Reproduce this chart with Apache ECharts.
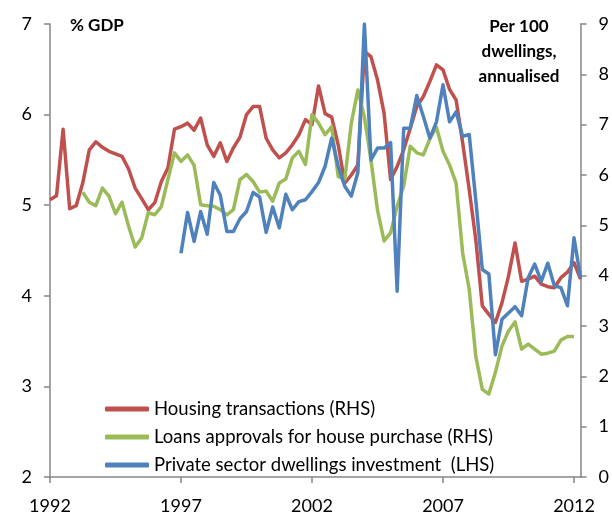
<!DOCTYPE html>
<html>
<head>
<meta charset="utf-8">
<script src="https://cdn.jsdelivr.net/npm/echarts@6/dist/echarts.min.js"></script>
<style>
  html, body { margin: 0; padding: 0; background: #fff; }
  #chart { width: 612px; height: 515px; }
</style>
</head>
<body>
<div id="chart"></div>
<script>
// quarterly, 1992 Q1 .. 2012 Q2
const quarters = []
for (let y = 1992; y <= 2012; y++) {
  for (let q = 1; q <= 4; q++) quarters.push(y + ' Q' + q)
}
quarters.length = 82

// Per 100 dwellings, annualised (RHS)
const housingTransactions = [
  5.51, 5.59, 6.91, 5.33, 5.39, 5.84, 6.50, 6.66, 6.55, 6.47,
  6.42, 6.37, 6.12, 5.74, 5.53, 5.31, 5.45, 5.87, 6.14, 6.91,
  6.96, 7.03, 6.89, 7.13, 6.60, 6.37, 6.64, 6.27, 6.54, 6.75,
  7.20, 7.36, 7.36, 6.73, 6.50, 6.34, 6.44, 6.60, 6.80, 7.10,
  7.00, 7.77, 7.22, 7.15, 6.60, 5.84, 6.00, 6.20, 8.45, 8.35,
  7.89, 7.23, 5.91, 6.17, 6.50, 6.93, 7.36, 7.56, 7.86, 8.19,
  8.09, 7.70, 7.49, 6.64, 5.71, 4.72, 3.40, 3.23, 3.07, 3.46,
  3.99, 4.65, 3.89, 3.93, 3.99, 3.83, 3.78, 3.76, 3.96, 4.07,
  4.26, 3.93
]
const loanApprovals = [
  null, null, null, null, null, 5.66, 5.46, 5.39, 5.74, 5.58,
  5.23, 5.46, 4.98, 4.57, 4.75, 5.25, 5.21, 5.37, 5.91, 6.44,
  6.27, 6.40, 6.19, 5.41, 5.39, 5.38, 5.31, 5.21, 5.31, 5.91,
  6.01, 5.87, 5.66, 5.68, 5.48, 5.84, 5.92, 6.34, 6.47, 6.21,
  7.20, 7.03, 6.80, 6.96, 5.97, 5.91, 7.03, 7.69, 7.15, 6.30,
  5.30, 4.69, 4.85, 5.38, 5.78, 6.57, 6.44, 6.40, 6.72, 6.95,
  6.47, 6.20, 5.84, 4.45, 3.73, 2.40, 1.74, 1.65, 2.08, 2.60,
  2.90, 3.08, 2.54, 2.64, 2.54, 2.44, 2.46, 2.50, 2.72, 2.79,
  2.79, null
]
// % GDP (LHS)
const dwellingsInvestment = [
  null, null, null, null, null, null, null, null, null, null,
  null, null, null, null, null, null, null, null, null, null,
  4.47, 4.92, 4.60, 4.93, 4.68, 5.25, 5.11, 4.71, 4.71, 4.85,
  4.93, 5.14, 5.09, 4.70, 4.98, 4.75, 5.12, 4.95, 5.04, 5.06,
  5.15, 5.25, 5.43, 5.74, 5.43, 5.21, 5.10, 5.36, 7.00, 5.50,
  5.63, 5.63, 5.69, 4.05, 5.85, 5.85, 6.21, 5.98, 5.74, 5.92,
  6.33, 5.92, 6.03, 5.76, 5.78, 5.06, 4.29, 4.24, 3.35, 3.74,
  3.81, 3.88, 3.78, 4.20, 4.35, 4.16, 4.36, 4.11, 4.09, 3.89,
  4.64, 4.20
]

const FONT = 'Lato'
const axisGrey = '#868686'

const chart = echarts.init(document.getElementById('chart'))

const axisCommon = {
  axisLine: { show: true, lineStyle: { color: axisGrey, width: 1.5 } },
  axisTick: { show: true, length: 6, lineStyle: { color: axisGrey, width: 1.5 } },
  axisLabel: { color: '#000', fontFamily: FONT, fontSize: 18, margin: 18 },
  splitLine: { show: false }
}

chart.setOption({
  animation: false,
  backgroundColor: '#fff',
  grid: { left: 50, right: 31, top: 24, bottom: 37 },
  xAxis: {
    type: 'category',
    data: quarters,
    boundaryGap: false,
    ...axisCommon,
    axisTick: { ...axisCommon.axisTick, interval: 19 },
    axisLabel: {
      ...axisCommon.axisLabel,
      interval: 19,
      margin: 20,
      formatter: v => v.slice(0, 4)
    }
  },
  yAxis: [
    { type: 'value', min: 2, max: 7, interval: 1, ...axisCommon },
    { type: 'value', min: 0, max: 9, interval: 1, position: 'right', ...axisCommon }
  ],
  legend: {
    orient: 'vertical',
    left: 100,
    top: 394,
    icon: 'roundRect',
    itemWidth: 44,
    itemHeight: 5,
    itemGap: 8,
    textStyle: { fontFamily: FONT, fontSize: 18.5, color: '#000', lineHeight: 20 },
    data: [
      'Housing transactions (RHS)',
      'Loans approvals for house purchase (RHS)',
      'Private sector dwellings investment  (LHS)'
    ]
  },
  graphic: [
    {
      type: 'text', left: 70, top: 17,
      style: { text: '% GDP', font: 'bold 17px Lato', fill: '#000' }
    },
    {
      type: 'text', x: 519, y: 14,
      style: {
        text: 'Per 100\ndwellings,\nannualised',
        font: 'bold 17px Lato', fill: '#000',
        align: 'center', lineHeight: 25
      }
    }
  ],
  series: [
    {
      name: 'Housing transactions (RHS)',
      type: 'line', yAxisIndex: 1, data: housingTransactions,
      symbol: 'none', connectNulls: false,
      lineStyle: { color: '#C0504D', width: 3.5, join: 'round' },
      itemStyle: { color: '#C0504D' }
    },
    {
      name: 'Loans approvals for house purchase (RHS)',
      type: 'line', yAxisIndex: 1, data: loanApprovals,
      symbol: 'none',
      lineStyle: { color: '#9BBB59', width: 3.5, join: 'round' },
      itemStyle: { color: '#9BBB59' }
    },
    {
      name: 'Private sector dwellings investment  (LHS)',
      type: 'line', yAxisIndex: 0, data: dwellingsInvestment,
      symbol: 'none',
      lineStyle: { color: '#4F81BD', width: 3.5, join: 'round' },
      itemStyle: { color: '#4F81BD' }
    }
  ]
})

window.addEventListener('resize', () => chart.resize())
</script>
</body>
</html>
